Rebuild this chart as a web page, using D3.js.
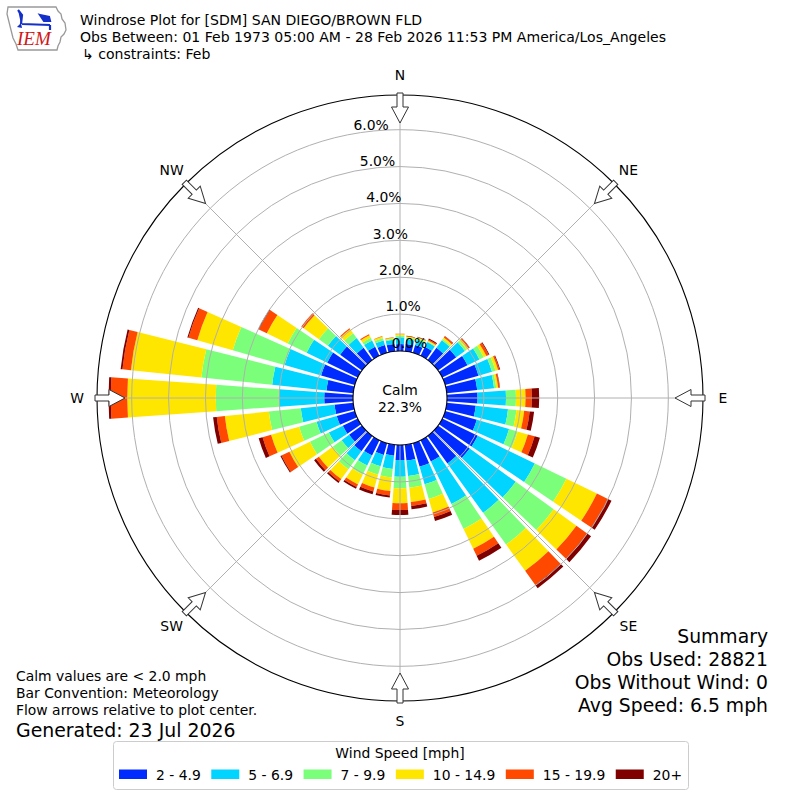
<!DOCTYPE html>
<html>
<head>
<meta charset="utf-8">
<script src="https://cdn.jsdelivr.net/npm/d3@7/dist/d3.min.js"></script>
<style>
  body { margin: 0; background: #fff; }
  svg text { font-family: "DejaVu Sans", sans-serif; fill: #000; }
</style>
</head>
<body>
<div id="chart"></div>
<script>
// wind directions (deg, meteorological)
const directions = [0,10,20,30,40,50,60,70,80,90,100,110,120,130,140,150,160,170,
  180,190,200,210,220,230,240,250,260,270,280,290,300,310,320,330,340,350];

// frequency (%) per speed bin, one value per direction
const spd2_5   = [0.19,0.20,0.22,0.27,0.41,0.61,0.76,0.94,0.83,0.83,0.79,0.89,1.07,1.06,0.92,0.64,0.66,0.43,
                  0.41,0.30,0.33,0.46,0.51,0.43,0.45,0.51,0.51,0.78,0.73,0.95,0.92,0.73,0.41,0.27,0.22,0.20];
const spd5_7   = [0.18,0.13,0.14,0.14,0.25,0.29,0.36,0.38,0.46,0.77,0.88,0.91,1.72,1.54,1.65,1.28,0.50,0.42,
                  0.45,0.36,0.32,0.30,0.30,0.25,0.42,0.57,0.92,1.23,1.48,1.03,0.62,0.41,0.32,0.19,0.13,0.11];
const spd7_10  = [0.05,0.04,0.04,0.02,0.04,0.06,0.13,0.10,0.06,0.27,0.23,0.24,0.95,1.27,1.06,0.75,0.41,0.32,
                  0.31,0.23,0.24,0.27,0.30,0.30,0.57,0.49,0.87,1.71,1.93,1.46,0.57,0.30,0.16,0.08,0.06,0.03];
const spd10_15 = [0.04,0.03,0.03,0.03,0.05,0.06,0.08,0.07,0.05,0.26,0.21,0.29,0.92,0.76,0.88,0.60,0.38,0.39,
                  0.41,0.37,0.36,0.30,0.33,0.46,0.62,0.79,1.20,2.40,1.92,1.00,0.63,0.51,0.14,0.08,0.05,0.03];
const spd15_20 = [0.01,0.01,0.01,0.03,0.04,0.03,0.07,0.04,0.04,0.17,0.15,0.19,0.33,0.36,0.47,0.21,0.13,0.11,
                  0.18,0.12,0.11,0.08,0.08,0.10,0.24,0.24,0.22,0.45,0.23,0.25,0.24,0.08,0.03,0.03,0.01,0.01];
const spd20p   = [0.00,0.01,0.01,0.03,0.01,0.01,0.02,0.02,0.01,0.20,0.12,0.15,0.11,0.13,0.11,0.15,0.11,0.09,
                  0.14,0.06,0.08,0.05,0.05,0.06,0.03,0.11,0.10,0.06,0.05,0.03,0.02,0.00,0.00,0.00,0.00,0.00];

const binLabels = ["2 - 4.9", "5 - 6.9", "7 - 9.9", "10 - 14.9", "15 - 19.9", "20+"];
const binColors = ["#002bff", "#00d4ff", "#7bff7b", "#ffe600", "#ff4800", "#800000"];
const ringTicks = [0, 1, 2, 3, 4, 5, 6];
const compass = [["N",0],["NE",45],["E",90],["SE",135],["S",180],["SW",225],["W",270],["NW",315]];

const calmPct = "22.3%";
const titleLines = [
  "Windrose Plot for [SDM] SAN DIEGO/BROWN FLD",
  "Obs Between: 01 Feb 1973 05:00 AM - 28 Feb 2026 11:53 PM America/Los_Angeles",
  "\u21b3 constraints: Feb"
];
const noteLines = ["Calm values are < 2.0 mph", "Bar Convention: Meteorology", "Flow arrows relative to plot center."];
const generated = "Generated: 23 Jul 2026";
const summaryLines = ["Summary", "Obs Used: 28821", "Obs Without Wind: 0", "Avg Speed: 6.5 mph"];

const W = 800, H = 800, cx = 400, cy = 398;
const calmR = 47, outerR = 303;
const rad = Math.PI / 180;

const svg = d3.select("#chart").append("svg")
  .attr("width", W).attr("height", H);

// build table for the stack
const series = [spd2_5, spd5_7, spd7_10, spd10_15, spd15_20, spd20p];
const table = directions.map((dir, i) => {
  const row = { dir };
  binLabels.forEach((b, j) => row[b] = series[j][i]);
  return row;
});
const stacked = d3.stack().keys(binLabels)(table);

const r = d3.scaleLinear().domain([0, 6.94]).range([calmR, outerR]);
const color = d3.scaleOrdinal().domain(binLabels).range(binColors);

const g = svg.append("g").attr("transform", `translate(${cx},${cy})`);

// bars
const halfW = 4.1 * rad;
const arc = d3.arc()
  .innerRadius(d => r(d[0]))
  .outerRadius(d => r(d[1]))
  .startAngle(d => d.data.dir * rad - halfW)
  .endAngle(d => d.data.dir * rad + halfW);

g.selectAll(".layer")
  .data(stacked)
  .join("g")
  .attr("class", "layer")
  .attr("fill", d => color(d.key))
  .selectAll("path")
  .data(d => d)
  .join("path")
  .attr("d", arc);

// grid rings and spokes (drawn over the bars)
g.selectAll(".ring")
  .data(ringTicks.slice(1))
  .join("circle")
  .attr("class", "ring")
  .attr("r", d => r(d))
  .attr("fill", "none")
  .attr("stroke", "#b0b0b0")
  .attr("stroke-width", 1);

g.selectAll(".spoke")
  .data(compass)
  .join("line")
  .attr("class", "spoke")
  .attr("x1", 0).attr("y1", 0)
  .attr("x2", d => outerR * Math.sin(d[1] * rad))
  .attr("y2", d => -outerR * Math.cos(d[1] * rad))
  .attr("stroke", "#b0b0b0")
  .attr("stroke-width", 1);

// outer frame
g.append("circle")
  .attr("r", outerR)
  .attr("fill", "none")
  .attr("stroke", "#000")
  .attr("stroke-width", 1.1);

// calm circle
g.append("circle")
  .attr("r", calmR)
  .attr("fill", "#fff")
  .attr("stroke", "#000")
  .attr("stroke-width", 1.1);
g.append("text").attr("text-anchor", "middle").attr("y", -3)
  .attr("font-size", 13.9).text("Calm");
g.append("text").attr("text-anchor", "middle").attr("y", 14)
  .attr("font-size", 13.9).text(calmPct);

// radial labels
const labAng = -10 * rad;
g.selectAll(".rlab")
  .data(ringTicks)
  .join("text")
  .attr("class", "rlab")
  .attr("x", d => r(d) * Math.sin(labAng))
  .attr("y", d => -r(d) * Math.cos(labAng) - 4)
  .attr("font-size", 13.9)
  .text(d => d.toFixed(1) + "%");

// flow arrows pointing to center
const arrowPath = "M-3,-305 L3,-305 L3,-291 L8.5,-291 L0,-275 L-8.5,-291 L-3,-291 Z";
g.selectAll(".arrow")
  .data(compass)
  .join("path")
  .attr("class", "arrow")
  .attr("d", arrowPath)
  .attr("transform", d => `rotate(${d[1]})`)
  .attr("fill", "#fff")
  .attr("stroke", "#333")
  .attr("stroke-width", 1);

// compass labels
g.selectAll(".clab")
  .data(compass)
  .join("text")
  .attr("class", "clab")
  .attr("x", d => 323 * Math.sin(d[1] * rad))
  .attr("y", d => -323 * Math.cos(d[1] * rad))
  .attr("text-anchor", "middle")
  .attr("dominant-baseline", "central")
  .attr("font-size", 13.9)
  .text(d => d[0]);

// header
svg.selectAll(".title")
  .data(titleLines)
  .join("text")
  .attr("class", "title")
  .attr("x", (d, i) => i === 2 ? 82 : 80)
  .attr("y", (d, i) => 25 + i * 17)
  .attr("font-size", 14.05)
  .text(d => d);

// IEM logo
const logo = svg.append("g");
logo.append("path")
  .attr("d", "M8,7 L56,7 L58,11 L61,14 L62,19 L65,23 L66,30 L64,34 L61,37 L60,42 L58,46 L57,50 L18,50 L16,44 L13,38 L11,30 L9,22 L7,14 Z")
  .attr("fill", "#fff").attr("stroke", "#999").attr("stroke-width", 1.3);
logo.append("path")
  .attr("d", "M18,10 L22,15 L21,24 M22,24 L50,25 M50,25 L50,30 M40,15 L49,17 L50,21 L44,21 Z")
  .attr("fill", "#1530c8").attr("stroke", "#1530c8").attr("stroke-width", 2.2);
logo.append("path").attr("d", "M17,27 L21,23 L22,28 Z").attr("fill", "#1530c8");
logo.append("text")
  .attr("x", 17).attr("y", 45)
  .attr("font-size", 19)
  .attr("font-style", "italic")
  .style("font-family", "'Liberation Serif', 'DejaVu Serif', serif")
  .style("fill", "#d01818")
  .text("IEM");

// notes bottom left
svg.selectAll(".note")
  .data(noteLines)
  .join("text")
  .attr("class", "note")
  .attr("x", 16)
  .attr("y", (d, i) => 681 + i * 17)
  .attr("font-size", 13.9)
  .text(d => d);
svg.append("text").attr("x", 16).attr("y", 737)
  .attr("font-size", 18.9).text(generated);

// summary bottom right
svg.selectAll(".summary")
  .data(summaryLines)
  .join("text")
  .attr("class", "summary")
  .attr("x", 768)
  .attr("y", (d, i) => 643 + i * 23)
  .attr("text-anchor", "end")
  .attr("font-size", 18.8)
  .text(d => d);

// legend
const leg = svg.append("g");
leg.append("rect")
  .attr("x", 113.5).attr("y", 741.5)
  .attr("width", 575).attr("height", 48)
  .attr("rx", 3)
  .attr("fill", "#fff")
  .attr("stroke", "#cccccc");
leg.append("text")
  .attr("x", 400).attr("y", 758)
  .attr("text-anchor", "middle")
  .attr("font-size", 13.9)
  .text("Wind Speed [mph]");

let lx = 119;
binLabels.forEach(b => {
  leg.append("rect")
    .attr("x", lx).attr("y", 769.5)
    .attr("width", 28).attr("height", 9.5)
    .attr("fill", color(b));
  const t = leg.append("text")
    .attr("x", lx + 37).attr("y", 779.5)
    .attr("font-size", 13.9)
    .text(b);
  lx += 37 + t.node().getComputedTextLength() + 10.5;
});
</script>
</body>
</html>
